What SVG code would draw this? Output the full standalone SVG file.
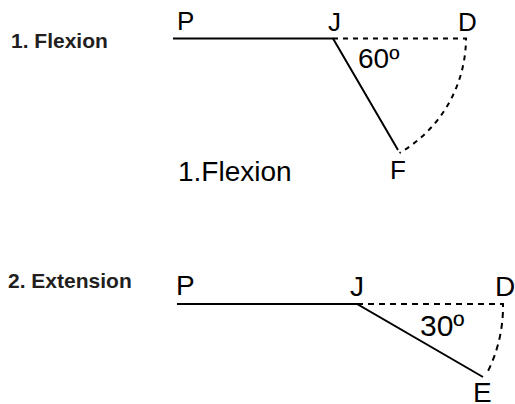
<svg xmlns="http://www.w3.org/2000/svg" width="515" height="404" viewBox="0 0 515 404">
<style>
.bg{fill:#ffffff}
.lbl{font-family:"Liberation Sans",Arial,sans-serif;font-size:26px;fill:#000}
.lbl2{font-family:"Liberation Sans",Arial,sans-serif;font-size:28px;fill:#000}
.ang{font-family:"Liberation Sans",Arial,sans-serif;font-size:28px;fill:#000}
.ang2{font-family:"Liberation Sans",Arial,sans-serif;font-size:30px;fill:#000}
.ttl{font-family:"Liberation Sans",Arial,sans-serif;font-size:21px;font-weight:bold;fill:#231f20}
.solid{fill:none;stroke:#000;stroke-width:2}
.dash{fill:none;stroke:#000;stroke-width:2;stroke-dasharray:5,5}
.dash2{fill:none;stroke:#000;stroke-width:2;stroke-dasharray:6,5}
</style>
<rect class="bg" x="0" y="0" width="515" height="404"/>
<g id="flexion-title"><text class="ttl" x="11" y="48">1. Flexion</text></g>
<g id="extension-title"><text class="ttl" x="8" y="288">2. Extension</text></g>
<g id="flexion-caption"><text class="ang" x="178" y="181">1.Flexion</text></g>
<g id="connectors">
  <path class="solid" d="M173,38.5 H333 L398,150"/>
  <path class="dash" d="M333,38.5 H466 A133,133 0 0 1 399.5,153"/>
  <path class="solid" d="M177,304 H357 L483,377"/>
  <path class="dash2" d="M357,304 H503 A146,146 0 0 1 486,375"/>
</g>
<g id="f-P"><text class="lbl" x="177" y="30">P</text></g>
<g id="f-J"><text class="lbl" x="328" y="31">J</text></g>
<g id="f-D"><text class="lbl" x="458" y="31">D</text></g>
<g id="f-F"><text class="lbl" x="390" y="179">F</text></g>
<g id="f-angle"><text class="ang" x="358" y="68">60º</text></g>
<g id="e-P"><text class="lbl2" x="176" y="295">P</text></g>
<g id="e-J"><text class="lbl2" x="350" y="296">J</text></g>
<g id="e-D"><text class="lbl2" x="495" y="296">D</text></g>
<g id="e-E"><text class="lbl2" x="473" y="402">E</text></g>
<g id="e-angle"><text class="ang2" x="420" y="336">30º</text></g>
</svg>
